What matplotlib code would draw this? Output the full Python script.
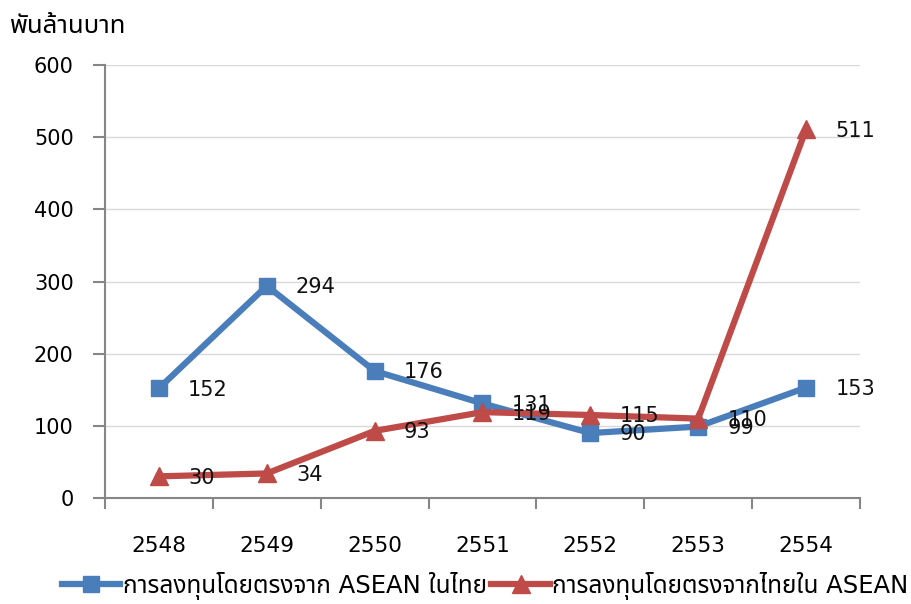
import matplotlib
matplotlib.use("Agg")
import matplotlib.pyplot as plt

plt.rcParams['font.family'] = ['DejaVu Sans', 'Noto Sans Thai']

years = ['2548', '2549', '2550', '2551', '2552', '2553', '2554']
asean_in_thai = [152, 294, 176, 131, 90, 99, 153]
thai_in_asean = [30, 34, 93, 119, 115, 110, 511]
label_asean = 'การลงทุนโดยตรงจาก ASEAN ในไทย'
label_thai = 'การลงทุนโดยตรงจากไทยใน ASEAN'

blue = '#4A7EBB'
red = '#BE4B48'
axis_grey = '#868686'

fig = plt.figure(figsize=(9.12, 6.04), dpi=100)
ax = fig.add_axes([105 / 912, 1 - 498 / 604, 755 / 912, 433 / 604])

x = list(range(len(years)))
ax.plot(x, asean_in_thai, color=blue, lw=4.5, marker='s', ms=11.5,
        markeredgecolor=blue, label=label_asean, zorder=3)
ax.plot(x, thai_in_asean, color=red, lw=4.5, marker='^', ms=13,
        markeredgecolor=red, label=label_thai, zorder=4)

for xi, v in zip(x, asean_in_thai):
    ax.annotate(str(v), (xi, v), xytext=(21, -1), textcoords='offset points',
                va='center', ha='left', fontsize=15, color='#111111', zorder=5)
for xi, v in zip(x, thai_in_asean):
    ax.annotate(str(v), (xi, v), xytext=(21, -1), textcoords='offset points',
                va='center', ha='left', fontsize=15, color='#111111', zorder=5)

ax.set_xlim(-0.5, len(years) - 0.5)
ax.set_ylim(0, 600)
ax.set_yticks(range(0, 601, 100))
ax.yaxis.grid(True, color='#D9D9D9', lw=1)
ax.set_axisbelow(True)

# category labels sit between the tick marks
ax.set_xticks([i - 0.5 for i in range(len(years) + 1)])
ax.set_xticklabels([])
ax.set_xticks(x, minor=True)
ax.set_xticklabels(years, minor=True)
ax.tick_params(axis='x', which='major', direction='out', length=8,
               color=axis_grey, width=1.5)
ax.tick_params(axis='x', which='minor', length=0, pad=27, labelsize=15.5)
ax.tick_params(axis='y', direction='out', length=9, color=axis_grey,
               width=1.5, pad=13.5, labelsize=15)

for s in ['top', 'right']:
    ax.spines[s].set_visible(False)
for s in ['left', 'bottom']:
    ax.spines[s].set_color(axis_grey)
    ax.spines[s].set_linewidth(1.5)

fig.text(10 / 912, 1 - 26 / 604, 'พันล้านบาท', fontsize=18.5, va='center', ha='left')

fig.legend(loc='center', bbox_to_anchor=(0.532, 1 - 586 / 604), ncol=2,
           frameon=False, fontsize=17.5, handlelength=2.4, handletextpad=0.1,
           columnspacing=0.2, borderaxespad=0, borderpad=0.2)

fig.savefig('out.png')
